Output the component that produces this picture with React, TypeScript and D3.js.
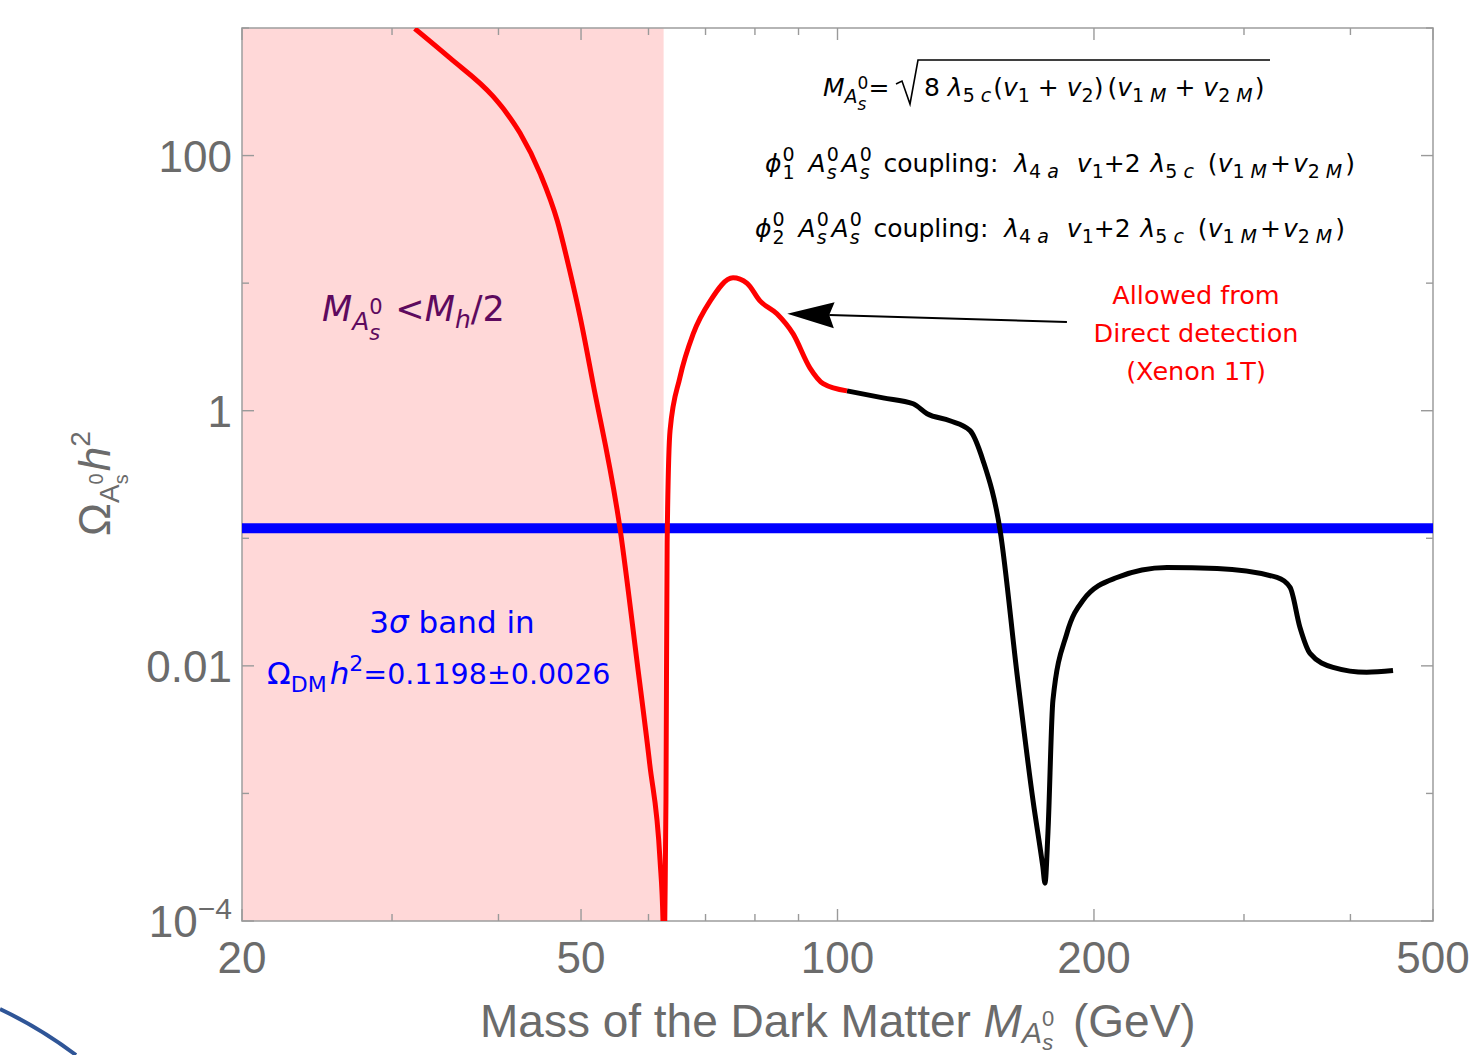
import React from "react";
import * as d3 from "d3";

// ---------- data ----------
const xDomain: [number, number] = [20, 500];
const yDomain: [number, number] = [1e-4, 1e3];

const xTicksMajor = [20, 50, 100, 200, 500];
const xTicksMinor = [30, 40, 60, 70, 80, 90, 300, 400];
const yTicksMajor = [1e-4, 1e-2, 1, 100];
const yTicksMinor = [1e-3, 0.1, 10, 1000];
const yTickLabels = ["10", "0.01", "1", "100"];

// relic density, red part (excluded by Mh/2 or allowed by direct detection)
const redCurve: [number, number][] = [
  [31.9, 990],
  [35.1, 580],
  [39.4, 292],
  [40.9, 215],
  [42.4, 150],
  [44.8, 71.6],
  [46.9, 30.7],
  [48.5, 12.5],
  [49.9, 5.35],
  [51.6, 1.69],
  [55.6, 0.115],
  [58.2, 0.0105],
  [60.2, 0.0017],
  [61.9, 0.0003],
  [62.4, 0.0001],
  [62.55, 0.00002],
  [62.7, 0.0001],
  [62.9, 0.0009],
  [63.1, 0.093],
  [63.6, 0.7],
  [65.3, 1.81],
  [67.7, 4.0],
  [70.9, 7.26],
  [75.4, 11.0],
  [78.3, 10.0],
  [81.1, 7.26],
  [84.9, 5.75],
  [88.7, 4.0],
  [92.8, 2.17],
  [96.2, 1.63],
  [102.6, 1.43],
];

const blackCurve: [number, number][] = [
  [102.6, 1.43],
  [113.1, 1.26],
  [122.7, 1.134],
  [127.4, 0.947],
  [135.5, 0.835],
  [143.1, 0.698],
  [148.2, 0.406],
  [155.2, 0.115],
  [162.5, 0.0085],
  [169.6, 0.000885],
  [174.2, 0.000265],
  [175.2, 0.000198],
  [176.6, 0.000489],
  [179.0, 0.00537],
  [185.9, 0.018],
  [194.1, 0.0326],
  [212.8, 0.0493],
  [243.6, 0.059],
  [279, 0.058],
  [328, 0.0493],
  [339.8, 0.0412],
  [349, 0.02],
  [358.6, 0.01253],
  [381.6, 0.00973],
  [418, 0.0089],
  [448.8, 0.00918],
];

const omegaDM = 0.1198;
const halfHiggs = 62.5;
const arrowFrom: [number, number] = [185.9, 4.97];
const arrowTo: [number, number] = [87.3, 5.75];

// ---------- layout ----------
const W = 1476;
const H = 1055;
const L = 242;
const R = 1433;
const T = 28;
const B = 921;

const DV = "DejaVu Sans";
const LS = "Liberation Sans, Arial, sans-serif";
const GREY = "#6b6b6b";

type Seg = { t: string; it?: boolean; fs?: number; dx?: number; dy?: number };
function spans(segs: Seg[]) {
  return segs.map((s, i) => (
    <tspan
      key={i}
      fontStyle={s.it ? "italic" : undefined}
      fontSize={s.fs}
      dx={s.dx}
      dy={s.dy}
    >
      {s.t}
    </tspan>
  ));
}

export default function App() {
  if (typeof document !== "undefined") {
    document.body.style.margin = "0";
    document.body.style.overflow = "hidden";
  }
  const x = d3.scaleLog().domain(xDomain).range([L, R]);
  const y = d3.scaleLog().domain(yDomain).range([B, T]);
  const line = d3
    .line<[number, number]>()
    .x((d) => x(d[0]))
    .y((d) => y(d[1]))
    .curve(d3.curveMonotoneX);

  const fs = 25;
  const sub = 19;
  const sx = 0.636 * sub;

  // arrow geometry
  const ax0 = x(arrowFrom[0]);
  const ay0 = y(arrowFrom[1]);
  const ax1 = x(arrowTo[0]);
  const ay1 = y(arrowTo[1]);
  const ang = Math.atan2(ay1 - ay0, ax1 - ax0);
  const hl = 47;
  const hw = 13;
  const bx = ax1 - hl * Math.cos(ang);
  const by = ay1 - hl * Math.sin(ang);
  const nx = ax1 - (hl - 5) * Math.cos(ang);
  const ny = ay1 - (hl - 5) * Math.sin(ang);
  const px = -Math.sin(ang);
  const py = Math.cos(ang);
  const head = `M${ax1},${ay1}L${bx + px * hw},${by + py * hw}L${nx},${ny}L${bx - px * hw},${by - py * hw}Z`;

  const coupling = (idx: string): Seg[] => [
    { t: "ϕ", it: true },
    { t: "0", fs: sub, dy: -11, dx: 1 },
    { t: idx, fs: sub, dx: -sx, dy: 18 },
    { t: " A", it: true, dy: -7, dx: 6 },
    { t: "0", fs: sub, dy: -11, dx: 1 },
    { t: "s", it: true, fs: sub, dx: -sx, dy: 18 },
    { t: "A", it: true, dy: -7, dx: 5 },
    { t: "0", fs: sub, dy: -11, dx: 1 },
    { t: "s", it: true, fs: sub, dx: -sx, dy: 18 },
    { t: " coupling: ", dy: -7, dx: 6 },
    { t: "λ", it: true, dx: 8 },
    { t: "4 ", fs: sub, dy: 6 },
    { t: "a", it: true, fs: sub },
    { t: "  ", dy: -6, dx: 10 },
    { t: "v", it: true },
    { t: "1", fs: sub, dy: 6 },
    { t: "+2 ", dy: -6 },
    { t: "λ", it: true, dx: 2 },
    { t: "5 ", fs: sub, dy: 6 },
    { t: "c", it: true, fs: sub },
    { t: " (", dy: -6, dx: 6 },
    { t: "v", it: true },
    { t: "1 ", fs: sub, dy: 6 },
    { t: "M", it: true, fs: sub },
    { t: "+", dy: -6, dx: 3 },
    { t: "v", it: true, dx: 2 },
    { t: "2 ", fs: sub, dy: 6 },
    { t: "M", it: true, fs: sub },
    { t: ")", dy: -6, dx: 3 },
  ];

  return (
    <svg
      width={W}
      height={H}
      style={{ position: "absolute", left: 0, top: 0, background: "#fff" }}
    >
      <defs>
        <clipPath id="plotClip">
          <rect x={L} y={T} width={R - L} height={B - T} />
        </clipPath>
      </defs>
      <rect x={0} y={0} width={W} height={H} fill="#fff" />

      {/* excluded region M < Mh/2 */}
      <rect
        x={L}
        y={T}
        width={x(halfHiggs) - L}
        height={B - T}
        fill="#ffd8d8"
      />

      {/* frame */}
      <rect
        x={L}
        y={T}
        width={R - L}
        height={B - T}
        fill="none"
        stroke="#a3a3a3"
        strokeWidth={1.6}
      />
      {/* ticks */}
      <g stroke="#9a9a9a" strokeWidth={1.4}>
        {xTicksMajor.map((v) => (
          <g key={"xM" + v}>
            <line x1={x(v)} x2={x(v)} y1={B} y2={B - 12} />
            <line x1={x(v)} x2={x(v)} y1={T} y2={T + 12} />
          </g>
        ))}
        {xTicksMinor.map((v) => (
          <g key={"xm" + v}>
            <line x1={x(v)} x2={x(v)} y1={B} y2={B - 7} />
            <line x1={x(v)} x2={x(v)} y1={T} y2={T + 7} />
          </g>
        ))}
        {yTicksMajor.map((v) => (
          <g key={"yM" + v}>
            <line x1={L} x2={L + 12} y1={y(v)} y2={y(v)} />
            <line x1={R} x2={R - 12} y1={y(v)} y2={y(v)} />
          </g>
        ))}
        {yTicksMinor.map((v) => (
          <g key={"ym" + v}>
            <line x1={L} x2={L + 7} y1={y(v)} y2={y(v)} />
            <line x1={R} x2={R - 7} y1={y(v)} y2={y(v)} />
          </g>
        ))}
      </g>

      {/* tick labels */}
      <g fontFamily={LS} fontSize={44} fill={GREY}>
        {xTicksMajor.map((v) => (
          <text key={"xl" + v} x={x(v)} y={973} textAnchor="middle">
            {String(v)}
          </text>
        ))}
        {yTicksMajor.map((v, i) =>
          i === 0 ? (
            <text key={"yl" + v} x={232} y={y(v) + 16} textAnchor="end">
              {yTickLabels[i]}
              <tspan fontSize={30} dy={-18}>
                −4
              </tspan>
            </text>
          ) : (
            <text key={"yl" + v} x={232} y={y(v) + 16} textAnchor="end">
              {yTickLabels[i]}
            </text>
          )
        )}
      </g>

      {/* relic density band */}
      <line
        x1={L}
        x2={R}
        y1={y(omegaDM)}
        y2={y(omegaDM)}
        stroke="#0000ff"
        strokeWidth={10}
      />

      {/* curves */}
      <g clipPath="url(#plotClip)" fill="none" strokeLinejoin="round">
        <path d={line(blackCurve) || ""} stroke="#000" strokeWidth={5} />
        <path d={line(redCurve) || ""} stroke="#ff0000" strokeWidth={5} />
      </g>

      {/* arrow */}
      <line x1={ax0} y1={ay0} x2={nx} y2={ny} stroke="#000" strokeWidth={2} />
      <path d={head} fill="#000" />

      {/* top formula */}
      <g fontFamily={DV} fontSize={fs} fill="#000" style={{ whiteSpace: "pre" }}>
        <text x={823} y={96}>
          {spans([
            { t: "M", it: true },
            { t: "A", it: true, fs: sub, dy: 7 },
            { t: "0", fs: 17, dy: -14 },
            { t: "s", it: true, fs: 17, dx: -10.8, dy: 21 },
            { t: "=", dy: -14, dx: 2 },
          ])}
        </text>
        <path
          d="M896,84 L902,81 L910,104 L918,60 L1270,60"
          fill="none"
          stroke="#000"
          strokeWidth={1.6}
        />
        <text x={924} y={96}>
          {spans([
            { t: "8 " },
            { t: "λ", it: true },
            { t: "5 ", fs: sub, dy: 6 },
            { t: "c", it: true, fs: sub },
            { t: "(", dy: -6, dx: 2 },
            { t: "v", it: true },
            { t: "1", fs: sub, dy: 6 },
            { t: " + ", dy: -6 },
            { t: "v", it: true },
            { t: "2", fs: sub, dy: 6 },
            { t: ")", dy: -6 },
            { t: "(", dx: 4 },
            { t: "v", it: true },
            { t: "1 ", fs: sub, dy: 6 },
            { t: "M", it: true, fs: sub },
            { t: " + ", dy: -6 },
            { t: "v", it: true },
            { t: "2 ", fs: sub, dy: 6 },
            { t: "M", it: true, fs: sub },
            { t: ")", dy: -6, dx: 2 },
          ])}
        </text>
        <text x={765} y={172}>{spans(coupling("1"))}</text>
        <text x={755} y={237}>{spans(coupling("2"))}</text>
      </g>

      {/* red annotation */}
      <g fontFamily={DV} fontSize={25.5} fill="#ff0000" textAnchor="middle">
        <text x={1196} y={304}>Allowed from</text>
        <text x={1196} y={342}>Direct detection</text>
        <text x={1196} y={380}>(Xenon 1T)</text>
      </g>

      {/* purple annotation */}
      <text
        x={322}
        y={321}
        fontFamily={DV}
        fontSize={35}
        fill="#5e0a5e"
        style={{ whiteSpace: "pre" }}
      >
        {spans([
          { t: "M", it: true },
          { t: "A", it: true, fs: 25, dy: 9 },
          { t: "0", fs: 21, dy: -16 },
          { t: "s", it: true, fs: 21, dx: -13.4, dy: 26 },
          { t: " <", dy: -19, dx: 4 },
          { t: "M", it: true },
          { t: "h", it: true, fs: 25, dy: 7 },
          { t: "/2", dy: -7 },
        ])}
      </text>

      {/* blue annotation */}
      <g fontFamily={DV} fontSize={31} fill="#0000ff" style={{ whiteSpace: "pre" }}>
        <text x={452} y={633} textAnchor="middle">
          {spans([{ t: "3" }, { t: "σ", it: true }, { t: " band in" }])}
        </text>
        <text x={267} y={684}>
          {spans([
            { t: "Ω" },
            { t: "DM", fs: 22, dy: 8 },
            { t: "h", it: true, dy: -8, dx: 3 },
            { t: "2", fs: 22, dy: -13 },
            { t: "=0.1198±0.0026", dy: 13, fs: 28.5 },
          ])}
        </text>
      </g>

      {/* axis titles */}
      <text
        x={480}
        y={1037}
        fontFamily={LS}
        fontSize={46}
        fill={GREY}
        style={{ whiteSpace: "pre" }}
      >
        {spans([
          { t: "Mass of the Dark Matter " },
          { t: "M", it: true },
          { t: "A", it: true, fs: 30, dy: 6 },
          { t: "0", fs: 22, dy: -17 },
          { t: "s", it: true, fs: 22, dx: -12, dy: 24 },
          { t: " (GeV)", dy: -13, dx: 7 },
        ])}
      </text>
      <text
        transform="translate(110,536) rotate(-90)"
        fontFamily={LS}
        fontSize={44}
        fill={GREY}
      >
        {spans([
          { t: "Ω" },
          { t: "A", fs: 28, dy: 9 },
          { t: "0", fs: 20, dy: -16 },
          { t: "s", fs: 20, dx: -11, dy: 25 },
          { t: "h", it: true, fs: 44, dy: -18, dx: 3 },
          { t: "2", fs: 28, dy: -20 },
        ])}
      </text>

      {/* decorative slide arc */}
      <path
        d="M0,1009 Q40,1028 76,1055"
        fill="none"
        stroke="#2f5597"
        strokeWidth={4}
      />
    </svg>
  );
}
